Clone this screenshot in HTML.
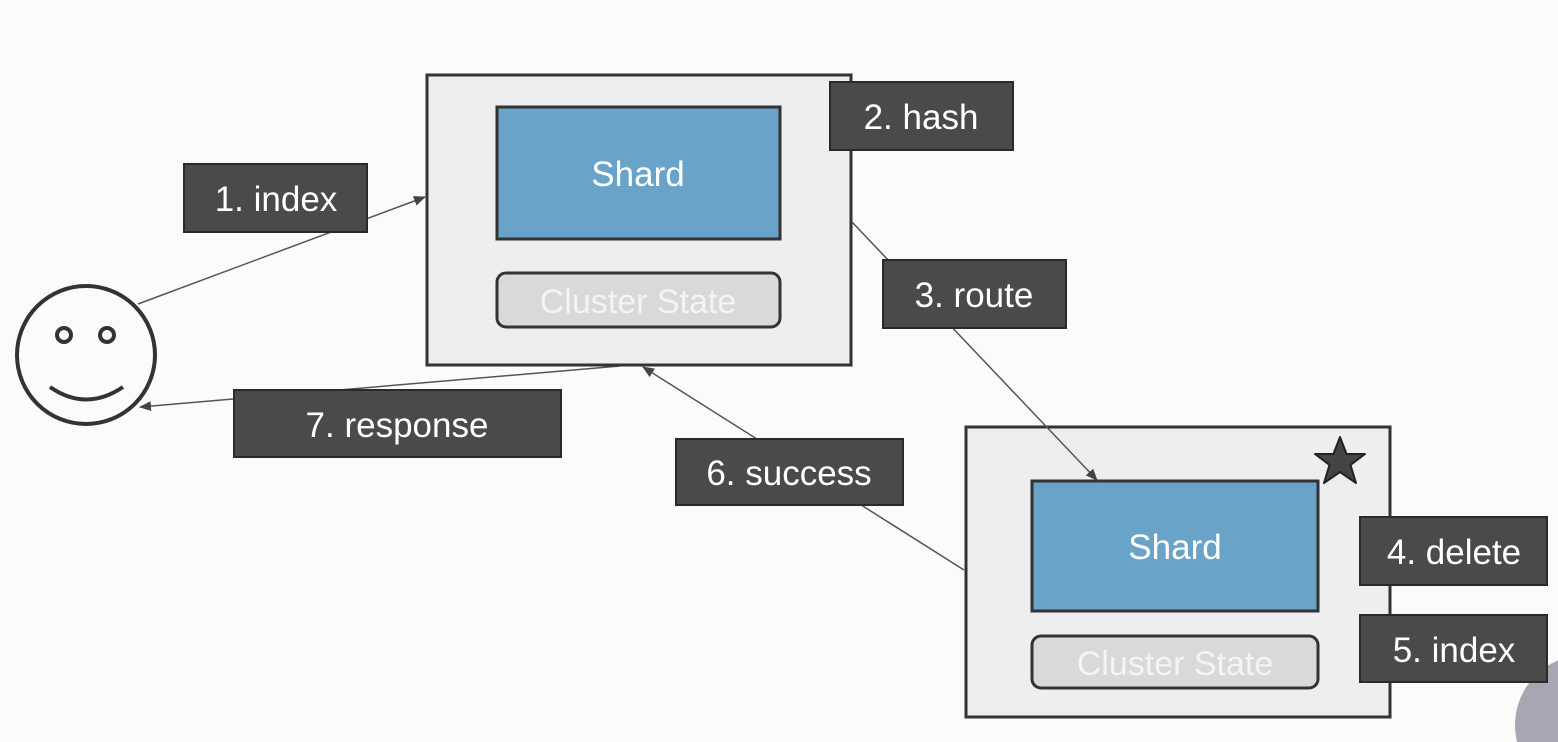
<!DOCTYPE html>
<html><head><meta charset="utf-8"><style>
html,body{margin:0;padding:0;background:#fbfbfa;width:1558px;height:742px;overflow:hidden;}
svg{display:block;}
text{font-family:"Liberation Sans",sans-serif;}
</style></head><body>
<svg width="1558" height="742" viewBox="0 0 1558 742" xmlns="http://www.w3.org/2000/svg">
<defs>
<marker id="ar" markerWidth="12" markerHeight="10" refX="11" refY="5" orient="auto" markerUnits="userSpaceOnUse">
<path d="M0,0 L12,5 L0,10 z" fill="#444"/>
</marker>
</defs>
<rect width="1558" height="742" fill="#fbfbfa"/>
<circle cx="1585" cy="725" r="70" fill="#a9a6b3"/>

<g stroke="#555" stroke-width="1.5" fill="none">
<line x1="138" y1="304" x2="425" y2="197" marker-end="url(#ar)"/>
<line x1="620" y1="366" x2="140" y2="407" marker-end="url(#ar)"/>
<line x1="964" y1="570" x2="643" y2="367" marker-end="url(#ar)"/>
</g>

<g stroke="#333" stroke-width="4" fill="none">
<circle cx="86" cy="355" r="69" fill="#fbfbfa"/>
<circle cx="64" cy="335" r="7"/>
<circle cx="107" cy="335" r="7"/>
<path d="M50,387 Q86,412 123,387"/>
</g>

<rect x="427" y="75" width="424" height="290" fill="#eceef0" stroke="#333" stroke-width="3"/>
<rect x="497" y="107" width="283" height="132" fill="#6aa3c8" stroke="#333" stroke-width="3"/>
<text x="638" y="186" font-size="35" fill="#fff" text-anchor="middle">Shard</text>
<rect x="497" y="273" width="283" height="54" rx="9" fill="#d9d9d9" stroke="#333" stroke-width="3"/>
<text x="638" y="313" font-size="34" fill="#f4f4f4" text-anchor="middle">Cluster State</text>

<rect x="966" y="427" width="424" height="290" fill="#eceef0" stroke="#333" stroke-width="3"/>
<rect x="1032" y="481" width="286" height="130" fill="#6aa3c8" stroke="#333" stroke-width="3"/>
<text x="1175" y="559" font-size="35" fill="#fff" text-anchor="middle">Shard</text>
<rect x="1032" y="636" width="286" height="52" rx="9" fill="#d9d9d9" stroke="#333" stroke-width="3"/>
<text x="1175" y="675" font-size="34" fill="#f4f4f4" text-anchor="middle">Cluster State</text>
<polygon points="1340,437 1346.5,454 1365,454 1350.5,465 1356,483 1340,472 1324,483 1329.5,465 1315,454 1333.5,454" fill="#444" stroke="#222" stroke-width="2" stroke-linejoin="round"/>

<line x1="852" y1="222" x2="1097" y2="480" stroke="#555" stroke-width="1.5" marker-end="url(#ar)"/>

<g fill="#4a4a4a" stroke="#2a2a2a" stroke-width="2">
<rect x="184" y="164" width="183" height="68"/>
<rect x="830" y="82" width="183" height="68"/>
<rect x="883" y="260" width="183" height="68"/>
<rect x="234" y="390" width="327" height="67"/>
<rect x="676" y="439" width="227" height="66"/>
<rect x="1360" y="517" width="187" height="68"/>
<rect x="1360" y="615" width="187" height="67"/>
</g>
<g font-size="35" fill="#fff" text-anchor="middle">
<text x="276" y="211">1. index</text>
<text x="921" y="129">2. hash</text>
<text x="974" y="307">3. route</text>
<text x="397" y="437">7. response</text>
<text x="789" y="485">6. success</text>
<text x="1454" y="564">4. delete</text>
<text x="1454" y="662">5. index</text>
</g>
</svg>
</body></html>
